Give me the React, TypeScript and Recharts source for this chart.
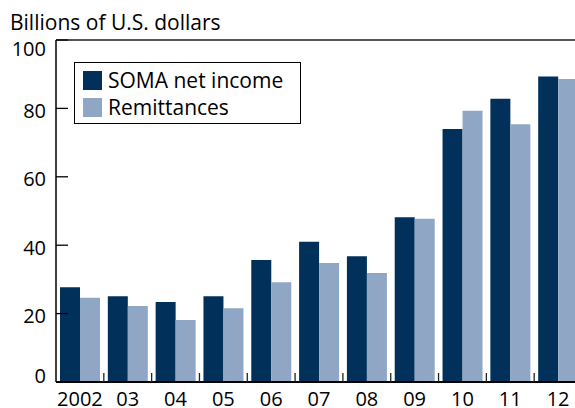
import React from "react";
import { BarChart, Bar, XAxis, YAxis, Legend, ReferenceLine } from "recharts";

// Fed SOMA net income vs remittances, 2002-2012
const years = ["2002", "03", "04", "05", "06", "07", "08", "09", "10", "11", "12"];
const somaNetIncome = [27.7, 25.1, 23.4, 25.1, 35.7, 41.0, 36.8, 48.2, 74.0, 82.8, 89.3];
const remittances = [24.6, 22.2, 18.1, 21.6, 29.2, 34.8, 31.9, 47.7, 79.3, 75.4, 88.6];
const yTicks = [0, 20, 40, 60, 80, 100];

const NAVY = "#01315a";
const STEEL = "#8fa7c4";
const FONT = "'Open Sans', 'Noto Sans', sans-serif";

const data = years.map((y, i) => ({
  year: y,
  soma: somaNetIncome[i],
  remit: remittances[i],
}));

const CHART_W = 600;
const PLOT_LEFT = 56;
const PLOT_RIGHT = 582;
const BAND = (PLOT_RIGHT - PLOT_LEFT) / years.length;

function YTick(props: any) {
  const { x, y, payload } = props;
  const v = payload.value;
  // top and bottom labels sit a bit inside the frame
  const shift = v === 100 ? 8 : v === 0 ? -7 : 2;
  return (
    <g>
      <line x1={PLOT_LEFT} x2={PLOT_LEFT + 12} y1={y} y2={y} stroke="#000" strokeWidth={1.3} />
      <text
        x={x}
        y={y + shift}
        textAnchor="end"
        dominantBaseline="central"
        fontSize={20}
        fontFamily={FONT}
        fill="#000"
      >
        {v}
      </text>
    </g>
  );
}

function XTick(props: any) {
  const { x, payload } = props;
  const edge = x + BAND / 2;
  return (
    <g>
      <line x1={edge} x2={edge} y1={382} y2={373} stroke="#222" strokeWidth={1.3} />
      <text
        x={x}
        y={398}
        textAnchor="middle"
        dominantBaseline="central"
        fontSize={20}
        fontFamily={FONT}
        fill="#000"
      >
        {payload.value}
      </text>
    </g>
  );
}

function LegendBox() {
  const rows = [
    { label: "SOMA net income", color: NAVY },
    { label: "Remittances", color: STEEL },
  ];
  return (
    <div
      style={{
        width: 227,
        height: 62,
        boxSizing: "border-box",
        border: "1.5px solid #000",
        background: "#fff",
        paddingTop: 4,
        fontFamily: FONT,
      }}
    >
      {rows.map((r) => (
        <div key={r.label} style={{ height: 27, display: "flex", alignItems: "center" }}>
          <div style={{ width: 19, height: 19, background: r.color, marginLeft: 8, marginRight: 6 }} />
          <span style={{ fontSize: 21, color: "#000", lineHeight: "27px" }}>{r.label}</span>
        </div>
      ))}
    </div>
  );
}

export default function App() {
  return (
    <div
      style={{
        position: "absolute",
        left: 0,
        top: 0,
        width: 575,
        height: 408,
        overflow: "hidden",
        background: "#fff",
      }}
    >
      <div
        style={{
          position: "absolute",
          left: 10,
          top: 10,
          fontFamily: FONT,
          fontSize: 21,
          lineHeight: "24px",
          color: "#000",
          whiteSpace: "nowrap",
        }}
      >
        Billions of U.S. dollars
      </div>
      <BarChart
        width={CHART_W}
        height={408}
        data={data}
        margin={{ top: 40, right: CHART_W - PLOT_RIGHT, bottom: 0, left: 0 }}
        barCategoryGap={4}
        barGap={0}
      >
        <XAxis
          dataKey="year"
          height={26}
          tick={<XTick />}
          tickLine={false}
          axisLine={{ stroke: "#000", strokeWidth: 2 }}
          interval={0}
        />
        <YAxis
          width={PLOT_LEFT}
          domain={[0, 100]}
          ticks={yTicks}
          tick={<YTick />}
          tickLine={false}
          tickSize={0}
          tickMargin={10}
          axisLine={{ stroke: "#000", strokeWidth: 1.5 }}
          interval={0}
        />
        <ReferenceLine y={100} stroke="#555" strokeWidth={2} ifOverflow="visible" />
        <Legend
          layout="horizontal"
          verticalAlign="middle"
          align="center"
          content={<LegendBox />}
          wrapperStyle={{ position: "absolute", left: 74, top: 62, width: 227, height: 62 }}
        />
        <Bar dataKey="soma" name="SOMA net income" fill={NAVY} isAnimationActive={false} />
        <Bar dataKey="remit" name="Remittances" fill={STEEL} isAnimationActive={false} />
      </BarChart>
    </div>
  );
}
